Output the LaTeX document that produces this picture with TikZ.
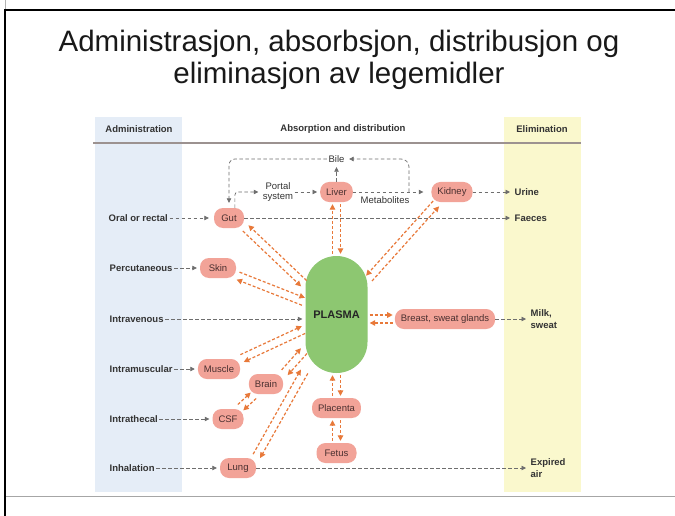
\documentclass[tikz,border=0pt]{standalone}
\usepackage{fontspec}
\setmainfont{Liberation Sans}
\usetikzlibrary{arrows.meta,calc}

\definecolor{organfill}{HTML}{F2A398}
\definecolor{organtext}{HTML}{4A3030}
\definecolor{plasmagreen}{HTML}{8DC771}
\definecolor{admincol}{HTML}{E5EDF7}
\definecolor{elimcol}{HTML}{FAF8CD}
\definecolor{flow}{HTML}{E8793A}
\definecolor{routegray}{HTML}{6E6E6E}
\definecolor{labeltext}{HTML}{333333}
\definecolor{rulegray}{HTML}{9C9290}

\tikzset{
  organ/.style={fill=organfill, rounded corners=9pt, minimum height=20pt,
    minimum width=30pt, inner xsep=6pt, inner ysep=2pt, text=organtext,
    font=\fontsize{9.5}{11}\selectfont},
  plasmabox/.style={fill=plasmagreen, rounded corners=31pt, minimum width=62pt,
    minimum height=117pt, text=black!85, font=\bfseries\fontsize{11}{13}\selectfont},
  routelabel/.style={inner sep=1.5pt, text=labeltext, anchor=west,
    font=\bfseries\fontsize{9.5}{12}\selectfont},
  outlabel/.style={routelabel, align=left},
  note/.style={inner sep=1.5pt, text=labeltext, align=center,
    font=\fontsize{9.5}{11}\selectfont},
  heading/.style={text=labeltext, font=\bfseries\fontsize{9.5}{11}\selectfont},
  route/.style={draw=routegray, line width=0.7pt, dash pattern=on 3.5pt off 2.5pt,
    -{Triangle[length=4.5pt,width=4.5pt]}, shorten >=3pt},
  flowline/.style={draw=flow, line width=1.2pt, dash pattern=on 3pt off 2pt,
    -{Triangle[length=5.5pt,width=5.5pt]}, shorten >=2pt, shorten <=2pt},
}

% two opposite dashed arrows running side by side between two ends;
% the optional angle picks the side of the one pointing to the second end
\newcommand\twoway[3][90]{%
  \path (#2) -- (#3) coordinate[pos=0] (twa) coordinate[pos=1] (twb);
  \pgfmathsetmacro\twneg{-(#1)}%
  \draw[flowline] ($(twa)!4pt!#1:(twb)$) -- ($(twb)!4pt!\twneg:(twa)$);
  \draw[flowline] ($(twb)!4pt!#1:(twa)$) -- ($(twa)!4pt!\twneg:(twb)$);
}

\begin{document}
\begin{tikzpicture}[x=1pt,y=-1pt]
\useasboundingbox (0,0) rectangle (675,516);
\fill[white] (0,0) rectangle (675,516);

% slide frame
\draw[gray!60, line width=0.6pt] (5,0) -- (5,10);
\draw[black, line width=2pt] (4,10) -- (675,10);
\draw[black, line width=2pt] (5,9) -- (5,516);
\draw[gray!70, line width=1pt] (6,496) -- (675,496);

% title
\node[font=\fontsize{29.5}{32}\selectfont, align=center, text=black!90] (title)
  at (339,59.5) {Administrasjon, absorbsjon, distribusjon og\\eliminasjon av legemidler};

% column backgrounds and header rule
\fill[admincol] (95,117) rectangle (182,492);
\fill[elimcol] (504,117) rectangle (581,492);
\draw[rulegray, line width=1.3pt] (93,143) -- (581,143);

\node[heading] (adminhead) at (139,129) {Administration};
\node[heading] (abshead) at (343,129) {Absorption and distribution};
\node[heading] (elimhead) at (542,129) {Elimination};

% compartments
\node[organ] (gut) at (229,218) {Gut};
\node[organ] (liver) at (336.5,192) {Liver};
\node[organ] (kidney) at (452,192) {Kidney};
\node[organ, minimum width=36pt] (skin) at (218,268) {Skin};
\node[plasmabox] (plasma) at (336.5,314.5) {PLASMA};
\node[organ] (breast) at (445,319) {Breast, sweat glands};
\node[organ] (muscle) at (219,369) {Muscle};
\node[organ] (brain) at (266,384) {Brain};
\node[organ] (csf) at (228,419) {CSF};
\node[organ] (placenta) at (336.5,408) {Placenta};
\node[organ, minimum width=40pt] (fetus) at (336.5,453) {Fetus};
\node[organ, minimum width=36pt] (lung) at (238,468) {Lung};

% routes of administration
\node[routelabel] (oral) at (107,218) {Oral or rectal};
\node[routelabel] (percut) at (108,268) {Percutaneous};
\node[routelabel] (iv) at (108,319) {Intravenous};
\node[routelabel] (im) at (108,369) {Intramuscular};
\node[routelabel] (ith) at (108,419) {Intrathecal};
\node[routelabel] (inh) at (108,468) {Inhalation};

% intermediate notes
\node[note] (bile) at (336.5,159) {Bile};
\node[note, font=\fontsize{9.5}{10.5}\selectfont] (portal) at (278,192) {Portal\\system};
\node[note] (metab) at (385,200) {Metabolites};

% elimination products
\node[outlabel] (urine) at (513,192) {Urine};
\node[outlabel] (faeces) at (513,218) {Faeces};
\node[outlabel] (milk) at (529,319) {Milk,\\sweat};
\node[outlabel] (expired) at (529,468) {Expired\\air};

% administration arrows
\draw[route, shorten >=5pt] (oral) -- (gut);
\draw[route] (percut) -- (skin);
\draw[route] (iv) -- (iv -| plasma.west);
\draw[route] (im) -- (muscle);
\draw[route] (ith) -- (csf);
\draw[route] (inh) -- (lung);

% hepatic circulation and bile
\draw[route, rounded corners=3pt] (gut.60) |- (portal.west);
\draw[route] (portal) -- (liver);
\draw[route, shorten >=8pt] (liver) -- (kidney);
\draw[route] (liver) -- (bile);
\draw[route, rounded corners=6pt, shorten >=5pt] (bile.west) -| (gut.north);
\coordinate (bilejoin) at (409,192);
\draw[route, rounded corners=8pt] (bilejoin) |- (bile.east);

% elimination arrows
\draw[route] (kidney) -- (urine);
\draw[route] (gut) -- (faeces);
\draw[route] (breast) -- (milk);
\draw[route] (lung) -- (expired);

% exchange with plasma
\twoway[-90]{gut.-30}{plasma}
\twoway{liver.south}{plasma.north}
\twoway[-90]{kidney.215}{plasma}
\twoway{skin}{plasma}
\twoway{plasma.east |- breast}{breast}
\twoway{muscle}{plasma}
\twoway{brain.30}{plasma}
\twoway{csf}{brain}
\twoway{lung.30}{plasma}
\twoway{plasma.south}{placenta.north}
\twoway{placenta.south}{fetus.north}
\end{tikzpicture}
\end{document}
